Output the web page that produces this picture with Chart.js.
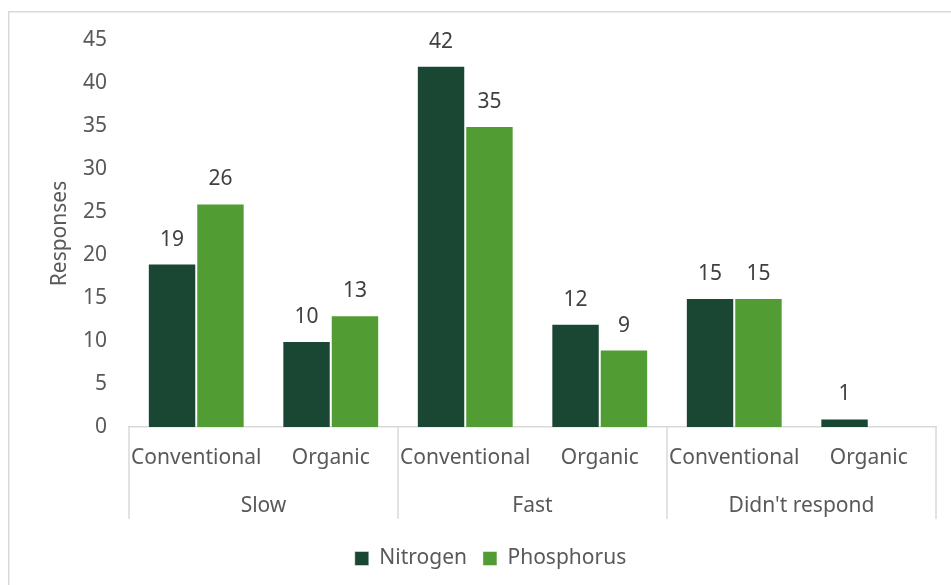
<!DOCTYPE html>
<html>
<head>
<meta charset="utf-8">
<script src="https://cdn.jsdelivr.net/npm/chart.js@4/dist/chart.umd.min.js"></script>
<style>
  html, body { margin: 0; padding: 0; background: #ffffff; overflow: hidden; }
  canvas { display: block; }
</style>
</head>
<body>
<canvas id="chart" width="951" height="585"></canvas>
<script>
// Fertilizer application rate responses, by farm type
const farmTypes = ['Conventional', 'Organic', 'Conventional', 'Organic', 'Conventional', 'Organic'];
const rateGroups = ['Slow', 'Fast', "Didn't respond"];
const nitrogen = [19, 10, 42, 12, 15, 1];
const phosphorus = [26, 13, 35, 9, 15, null];
const yTicks = [0, 5, 10, 15, 20, 25, 30, 35, 40, 45];

const FONT = "'Noto Sans', 'Open Sans', sans-serif";
const FONT_SIZE = 21;
const AXIS_GREY = '#d9d9d9';
const TEXT_GREY = '#595959';

// Outer frame of the chart
const framePlugin = {
  id: 'frame',
  beforeDraw(chart) {
    const ctx = chart.ctx;
    ctx.save();
    ctx.strokeStyle = AXIS_GREY;
    ctx.lineWidth = 1.5;
    ctx.beginPath();
    ctx.moveTo(8.75, chart.height + 5);
    ctx.lineTo(8.75, 11.75);
    ctx.lineTo(chart.width + 5, 11.75);
    ctx.stroke();
    ctx.restore();
  }
};

// Value labels above each bar
const valueLabels = {
  id: 'valueLabels',
  afterDatasetsDraw(chart) {
    const ctx = chart.ctx;
    ctx.save();
    ctx.font = FONT_SIZE + 'px ' + FONT;
    ctx.fillStyle = '#404040';
    ctx.textAlign = 'center';
    ctx.textBaseline = 'alphabetic';
    chart.data.datasets.forEach((ds, di) => {
      const meta = chart.getDatasetMeta(di);
      meta.data.forEach((bar, i) => {
        const v = ds.data[i];
        if (v === null || v === undefined) return;
        ctx.fillText(String(v), bar.x, bar.y - 18);
      });
    });
    ctx.restore();
  }
};

// Vertical dividers between the rate groups on the category axis
const groupDividers = {
  id: 'groupDividers',
  afterDraw(chart) {
    const xs = chart.scales.x;
    const ctx = chart.ctx;
    const perGroup = farmTypes.length / rateGroups.length;
    const edges = [xs.left];
    for (let g = 1; g < rateGroups.length; g++) {
      const a = xs.getPixelForTick(g * perGroup - 1);
      const b = xs.getPixelForTick(g * perGroup);
      edges.push((a + b) / 2);
    }
    edges.push(xs.right);
    ctx.save();
    ctx.strokeStyle = AXIS_GREY;
    ctx.lineWidth = 1.5;
    edges.forEach(x => {
      ctx.beginPath();
      ctx.moveTo(x, xs.top);
      ctx.lineTo(x, xs.top + 92);
      ctx.stroke();
    });
    ctx.restore();
  }
};

new Chart(document.getElementById('chart'), {
  type: 'bar',
  data: {
    labels: farmTypes,
    datasets: [
      {
        label: 'Nitrogen',
        data: nitrogen,
        backgroundColor: '#1a4734',
        borderColor: 'rgba(255,255,255,0.45)',
        borderWidth: 1,
        categoryPercentage: 0.72,
        barPercentage: 1.0
      },
      {
        label: 'Phosphorus',
        data: phosphorus,
        backgroundColor: '#519d33',
        borderColor: 'rgba(255,255,255,0.45)',
        borderWidth: 1,
        categoryPercentage: 0.72,
        barPercentage: 1.0
      }
    ]
  },
  options: {
    responsive: false,
    animation: false,
    devicePixelRatio: 1,
    layout: { padding: { left: 45, right: 15, top: 40, bottom: 6 } },
    plugins: {
      tooltip: { enabled: false },
      legend: {
        position: 'bottom',
        labels: {
          font: { family: FONT, size: FONT_SIZE },
          color: TEXT_GREY,
          boxWidth: 14,
          boxHeight: 14,
          padding: 16
        }
      }
    },
    scales: {
      x: {
        type: 'category',
        position: 'bottom',
        weight: 0,
        offset: true,
        grid: { display: false, drawTicks: false },
        border: { display: true, color: AXIS_GREY, width: 1.5 },
        ticks: {
          font: { family: FONT, size: FONT_SIZE },
          color: TEXT_GREY,
          padding: 18,
          maxRotation: 0,
          autoSkip: false
        },
        afterFit(scale) { scale.height = 50; }
      },
      x2: {
        type: 'category',
        position: 'bottom',
        weight: 1,
        labels: rateGroups,
        offset: true,
        grid: { display: false, drawTicks: false },
        border: { display: false },
        ticks: {
          font: { family: FONT, size: FONT_SIZE },
          color: TEXT_GREY,
          padding: 16,
          maxRotation: 0,
          autoSkip: false
        },
        afterFit(scale) { scale.height = 55; }
      },
      y: {
        min: 0,
        max: 45,
        afterBuildTicks(scale) { scale.ticks = yTicks.map(v => ({ value: v })); },
        grid: { display: false, drawTicks: false },
        border: { display: false },
        ticks: {
          font: { family: FONT, size: FONT_SIZE },
          color: TEXT_GREY,
          padding: 22
        },
        title: {
          display: true,
          text: 'Responses',
          font: { family: FONT, size: FONT_SIZE },
          color: TEXT_GREY,
          padding: { top: 2, bottom: 0 }
        },
        afterFit(scale) { scale.width = 84; }
      }
    }
  },
  plugins: [framePlugin, valueLabels, groupDividers]
});
</script>
</body>
</html>
